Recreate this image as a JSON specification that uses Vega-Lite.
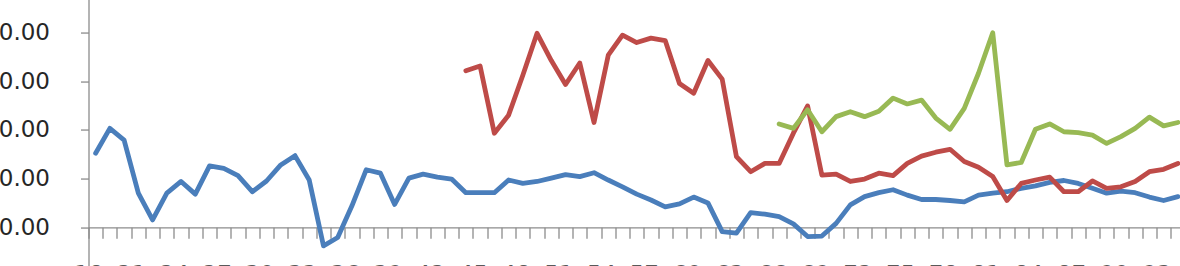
{
  "$schema": "https://vega.github.io/schema/vega-lite/v6.json",
  "autosize": {"type": "none"},
  "width": 1096.48,
  "height": 292.5,
  "padding": {"left": 88.5, "right": -4.98, "top": -16.45, "bottom": -10.05},
  "background": "white",
  "config": {"view": {"stroke": null}},
  "data": {"values": [
    {"year":1918,"series":"Series1","value":15.2},{"year":1919,"series":"Series1","value":20.3},{"year":1920,"series":"Series1","value":17.9},{"year":1921,"series":"Series1","value":7.0},{"year":1922,"series":"Series1","value":1.5},{"year":1923,"series":"Series1","value":7.0},{"year":1924,"series":"Series1","value":9.4},{"year":1925,"series":"Series1","value":6.8},{"year":1926,"series":"Series1","value":12.6},{"year":1927,"series":"Series1","value":12.1},
    {"year":1928,"series":"Series1","value":10.6},{"year":1929,"series":"Series1","value":7.3},{"year":1930,"series":"Series1","value":9.5},{"year":1931,"series":"Series1","value":12.8},{"year":1932,"series":"Series1","value":14.7},{"year":1933,"series":"Series1","value":9.7},{"year":1934,"series":"Series1","value":-3.8},{"year":1935,"series":"Series1","value":-2.1},{"year":1936,"series":"Series1","value":4.4},{"year":1937,"series":"Series1","value":11.8},
    {"year":1938,"series":"Series1","value":11.1},{"year":1939,"series":"Series1","value":4.7},{"year":1940,"series":"Series1","value":10.1},{"year":1941,"series":"Series1","value":10.9},{"year":1942,"series":"Series1","value":10.3},{"year":1943,"series":"Series1","value":9.9},{"year":1944,"series":"Series1","value":7.1},{"year":1945,"series":"Series1","value":7.1},{"year":1946,"series":"Series1","value":7.1},{"year":1947,"series":"Series1","value":9.7},
    {"year":1948,"series":"Series1","value":9.0},{"year":1949,"series":"Series1","value":9.4},{"year":1950,"series":"Series1","value":10.1},{"year":1951,"series":"Series1","value":10.8},{"year":1952,"series":"Series1","value":10.4},{"year":1953,"series":"Series1","value":11.2},{"year":1954,"series":"Series1","value":9.7},{"year":1955,"series":"Series1","value":8.3},{"year":1956,"series":"Series1","value":6.8},{"year":1957,"series":"Series1","value":5.6},
    {"year":1958,"series":"Series1","value":4.2},{"year":1959,"series":"Series1","value":4.8},{"year":1960,"series":"Series1","value":6.2},{"year":1961,"series":"Series1","value":5.0},{"year":1962,"series":"Series1","value":-0.9},{"year":1963,"series":"Series1","value":-1.2},{"year":1964,"series":"Series1","value":3.0},{"year":1965,"series":"Series1","value":2.7},{"year":1966,"series":"Series1","value":2.2},{"year":1967,"series":"Series1","value":0.7},
    {"year":1968,"series":"Series1","value":-1.9},{"year":1969,"series":"Series1","value":-1.8},{"year":1970,"series":"Series1","value":0.8},{"year":1971,"series":"Series1","value":4.6},{"year":1972,"series":"Series1","value":6.3},{"year":1973,"series":"Series1","value":7.1},{"year":1974,"series":"Series1","value":7.7},{"year":1975,"series":"Series1","value":6.6},{"year":1976,"series":"Series1","value":5.7},{"year":1977,"series":"Series1","value":5.7},
    {"year":1978,"series":"Series1","value":5.5},{"year":1979,"series":"Series1","value":5.2},{"year":1980,"series":"Series1","value":6.6},{"year":1981,"series":"Series1","value":7.0},{"year":1982,"series":"Series1","value":7.3},{"year":1983,"series":"Series1","value":8.0},{"year":1984,"series":"Series1","value":8.5},{"year":1985,"series":"Series1","value":9.2},{"year":1986,"series":"Series1","value":9.6},{"year":1987,"series":"Series1","value":9.0},
    {"year":1988,"series":"Series1","value":8.0},{"year":1989,"series":"Series1","value":7.0},{"year":1990,"series":"Series1","value":7.4},{"year":1991,"series":"Series1","value":7.1},{"year":1992,"series":"Series1","value":6.2},{"year":1993,"series":"Series1","value":5.5},{"year":1994,"series":"Series1","value":6.3},
    {"year":1944,"series":"Series2","value":32.1},{"year":1945,"series":"Series2","value":33.1},{"year":1946,"series":"Series2","value":19.3},{"year":1947,"series":"Series2","value":23.0},{"year":1948,"series":"Series2","value":31.2},{"year":1949,"series":"Series2","value":39.8},{"year":1950,"series":"Series2","value":34.2},{"year":1951,"series":"Series2","value":29.3},{"year":1952,"series":"Series2","value":33.7},{"year":1953,"series":"Series2","value":21.5},
    {"year":1954,"series":"Series2","value":35.3},{"year":1955,"series":"Series2","value":39.4},{"year":1956,"series":"Series2","value":37.9},{"year":1957,"series":"Series2","value":38.8},{"year":1958,"series":"Series2","value":38.3},{"year":1959,"series":"Series2","value":29.5},{"year":1960,"series":"Series2","value":27.5},{"year":1961,"series":"Series2","value":34.2},{"year":1962,"series":"Series2","value":30.4},{"year":1963,"series":"Series2","value":14.5},
    {"year":1964,"series":"Series2","value":11.4},{"year":1965,"series":"Series2","value":13.1},{"year":1966,"series":"Series2","value":13.1},{"year":1967,"series":"Series2","value":19.3},{"year":1968,"series":"Series2","value":24.9},{"year":1969,"series":"Series2","value":10.7},{"year":1970,"series":"Series2","value":10.9},{"year":1971,"series":"Series2","value":9.4},{"year":1972,"series":"Series2","value":9.9},{"year":1973,"series":"Series2","value":11.1},
    {"year":1974,"series":"Series2","value":10.6},{"year":1975,"series":"Series2","value":13.1},{"year":1976,"series":"Series2","value":14.6},{"year":1977,"series":"Series2","value":15.4},{"year":1978,"series":"Series2","value":16.0},{"year":1979,"series":"Series2","value":13.5},{"year":1980,"series":"Series2","value":12.3},{"year":1981,"series":"Series2","value":10.4},{"year":1982,"series":"Series2","value":5.5},{"year":1983,"series":"Series2","value":9.0},
    {"year":1984,"series":"Series2","value":9.7},{"year":1985,"series":"Series2","value":10.3},{"year":1986,"series":"Series2","value":7.3},{"year":1987,"series":"Series2","value":7.3},{"year":1988,"series":"Series2","value":9.5},{"year":1989,"series":"Series2","value":8.0},{"year":1990,"series":"Series2","value":8.3},{"year":1991,"series":"Series2","value":9.4},{"year":1992,"series":"Series2","value":11.4},{"year":1993,"series":"Series2","value":11.9},{"year":1994,"series":"Series2","value":13.1},
    {"year":1966,"series":"Series3","value":21.2},{"year":1967,"series":"Series3","value":20.3},{"year":1968,"series":"Series3","value":24.1},{"year":1969,"series":"Series3","value":19.6},{"year":1970,"series":"Series3","value":22.7},{"year":1971,"series":"Series3","value":23.7},{"year":1972,"series":"Series3","value":22.7},{"year":1973,"series":"Series3","value":23.8},{"year":1974,"series":"Series3","value":26.5},{"year":1975,"series":"Series3","value":25.3},
    {"year":1976,"series":"Series3","value":26.1},{"year":1977,"series":"Series3","value":22.4},{"year":1978,"series":"Series3","value":20.1},{"year":1979,"series":"Series3","value":24.4},{"year":1980,"series":"Series3","value":31.6},{"year":1981,"series":"Series3","value":39.9},{"year":1982,"series":"Series3","value":12.8},{"year":1983,"series":"Series3","value":13.3},{"year":1984,"series":"Series3","value":20.1},{"year":1985,"series":"Series3","value":21.2},
    {"year":1986,"series":"Series3","value":19.6},{"year":1987,"series":"Series3","value":19.4},{"year":1988,"series":"Series3","value":18.9},{"year":1989,"series":"Series3","value":17.2},{"year":1990,"series":"Series3","value":18.6},{"year":1991,"series":"Series3","value":20.3},{"year":1992,"series":"Series3","value":22.6},{"year":1993,"series":"Series3","value":20.8},{"year":1994,"series":"Series3","value":21.5}
  ]},
  "mark": {"type": "line", "strokeWidth": 4.8, "strokeJoin": "round", "strokeCap": "round", "clip": true},
  "encoding": {
    "x": {
      "field": "year", "type": "quantitative",
      "scale": {"domain": [1917.5, 1994.5], "nice": false, "zero": false},
      "axis": {
        "title": null, "grid": false, "offset": -48.75,
        "values": [1917.5,1918.5,1919.5,1920.5,1921.5,1922.5,1923.5,1924.5,1925.5,1926.5,1927.5,1928.5,1929.5,1930.5,1931.5,1932.5,1933.5,1934.5,1935.5,1936.5,1937.5,1938.5,1939.5,1940.5,1941.5,1942.5,1943.5,1944.5,1945.5,1946.5,1947.5,1948.5,1949.5,1950.5,1951.5,1952.5,1953.5,1954.5,1955.5,1956.5,1957.5,1958.5,1959.5,1960.5,1961.5,1962.5,1963.5,1964.5,1965.5,1966.5,1967.5,1968.5,1969.5,1970.5,1971.5,1972.5,1973.5,1974.5,1975.5,1976.5,1977.5,1978.5,1979.5,1980.5,1981.5,1982.5,1983.5,1984.5,1985.5,1986.5,1987.5,1988.5,1989.5,1990.5,1991.5,1992.5,1993.5,1994.5],
        "labelExpr": "(datum.value - 1917.5) % 3 == 0 ? substring(toString(datum.value + 0.5), 2, 4) : ''",
        "labelDx": 7.12, "labelAlign": "center", "labelBaseline": "top",
        "labelOverlap": false, "labelBound": false, "labelFlush": false,
        "labelFont": "DejaVu Sans", "labelFontSize": 23, "labelColor": "#595959", "labelPadding": 25,
        "domainColor": "#8c8c8c", "domainWidth": 1.3, "tickColor": "#8c8c8c", "tickWidth": 1.3, "tickSize": 11
      }
    },
    "y": {
      "field": "value", "type": "quantitative",
      "scale": {"domain": [-10, 50], "nice": false, "zero": false},
      "axis": {
        "title": null, "grid": false,
        "values": [-10, 0, 10, 20, 30, 40, 50],
        "format": ".2f",
        "labelFont": "DejaVu Sans", "labelFontSize": 23, "labelPadding": 31,
        "labelColor": {"condition": {"test": "datum.value < 0", "value": "#e03030"}, "value": "#262626"},
        "domainColor": "#8c8c8c", "domainWidth": 1.3, "tickColor": "#8c8c8c", "tickWidth": 1.3, "tickSize": 8
      }
    },
    "color": {
      "field": "series", "type": "nominal", "legend": null,
      "scale": {"domain": ["Series1", "Series2", "Series3"], "range": ["#4A7EBB", "#BE4B48", "#98B954"]}
    }
  }
}
